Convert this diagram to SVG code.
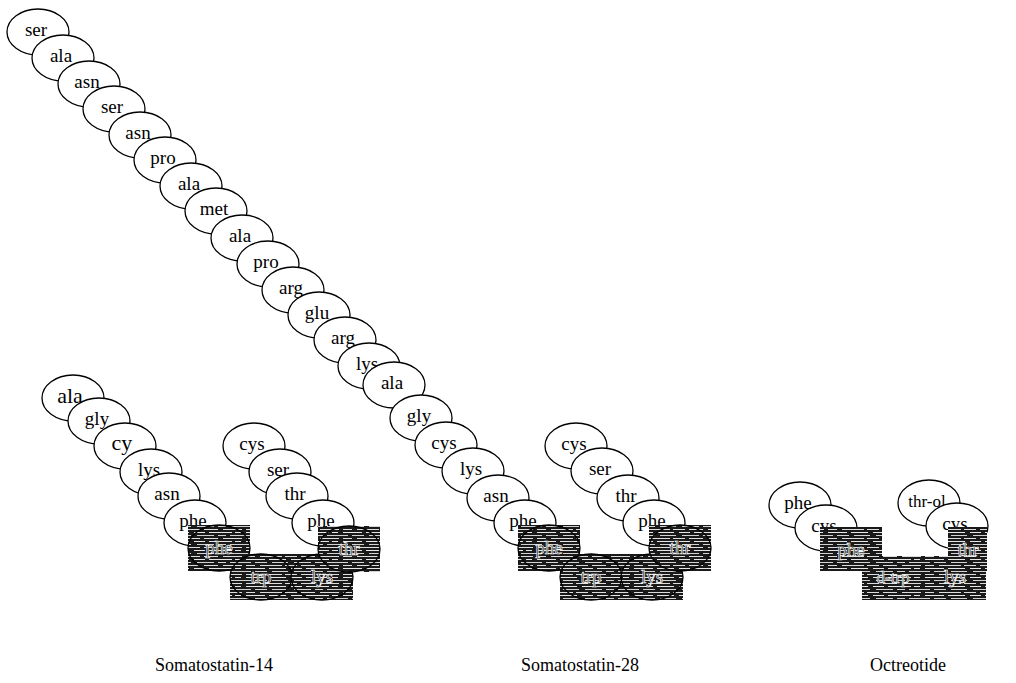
<svg xmlns="http://www.w3.org/2000/svg" width="1016" height="683" viewBox="0 0 1016 683">
<style>
.n ellipse{fill:#fff;stroke:#000;stroke-width:1.3}
.n text{font-family:"Liberation Serif","Times New Roman",serif;font-size:19px;fill:#000;text-anchor:middle}
.d rect{fill:url(#hatch)}
.d ellipse{fill:none;stroke:#000;stroke-width:1.3}
.d text{font-family:"Liberation Serif","Times New Roman",serif;font-size:19px;fill:#000;stroke:#fff;stroke-width:0.7;text-anchor:middle}
.big{font-size:22px !important}
.sm{font-size:17px !important}
.cap{font-family:"Liberation Serif","Times New Roman",serif;font-size:18px;fill:#000;text-anchor:middle}
</style>
<defs>
<pattern id="hatch" width="97" height="9" patternUnits="userSpaceOnUse">
<rect width="97" height="9" fill="#1a1a1a"/>
<path d="M0 1.5h11M15 1.5h23M41 1.5h6M52 1.5h19M75 1.5h17" stroke="#e6e6e6" stroke-width="1.1"/>
<path d="M3 4.5h17M24 4.5h8M36 4.5h21M61 4.5h12M78 4.5h16" stroke="#d2d2d2" stroke-width="1.1"/>
<path d="M0 7.5h6M10 7.5h14M29 7.5h19M52 7.5h9M66 7.5h22M91 7.5h6" stroke="#dddddd" stroke-width="1.1"/>
</pattern>
</defs>
<g id="connectors"/>

<!-- Somatostatin-28 main chain -->
<g id="s28-ser1" class="n"><ellipse cx="38" cy="32" rx="31" ry="23"/><text x="36" y="36">ser</text></g>
<g id="s28-ala2" class="n"><ellipse cx="63" cy="58" rx="31" ry="23"/><text x="61" y="62">ala</text></g>
<g id="s28-asn3" class="n"><ellipse cx="89" cy="84" rx="31" ry="23"/><text x="87" y="88">asn</text></g>
<g id="s28-ser4" class="n"><ellipse cx="114" cy="109" rx="31" ry="23"/><text x="112" y="113">ser</text></g>
<g id="s28-asn5" class="n"><ellipse cx="140" cy="135" rx="31" ry="23"/><text x="138" y="139">asn</text></g>
<g id="s28-pro6" class="n"><ellipse cx="165" cy="160" rx="31" ry="23"/><text x="163" y="164">pro</text></g>
<g id="s28-ala7" class="n"><ellipse cx="191" cy="186" rx="31" ry="23"/><text x="189" y="190">ala</text></g>
<g id="s28-met8" class="n"><ellipse cx="216" cy="211" rx="31" ry="23"/><text x="214" y="215">met</text></g>
<g id="s28-ala9" class="n"><ellipse cx="242" cy="238" rx="31" ry="23"/><text x="240" y="242">ala</text></g>
<g id="s28-pro10" class="n"><ellipse cx="268" cy="264" rx="31" ry="23"/><text x="266" y="268">pro</text></g>
<g id="s28-arg11" class="n"><ellipse cx="293" cy="290" rx="31" ry="23"/><text x="291" y="294">arg</text></g>
<g id="s28-glu12" class="n"><ellipse cx="319" cy="315" rx="31" ry="23"/><text x="317" y="319">glu</text></g>
<g id="s28-arg13" class="n"><ellipse cx="345" cy="340" rx="31" ry="23"/><text x="343" y="344">arg</text></g>
<g id="s28-lys14" class="n"><ellipse cx="369" cy="366" rx="31" ry="23"/><text x="367" y="370">lys</text></g>
<g id="s28-ala15" class="n"><ellipse cx="394" cy="385" rx="31" ry="23"/><text x="392" y="389">ala</text></g>
<g id="s28-gly16" class="n"><ellipse cx="421" cy="418" rx="31" ry="23"/><text x="419" y="422">gly</text></g>
<g id="s28-cys17" class="n"><ellipse cx="446" cy="445" rx="31" ry="23"/><text x="444" y="449">cys</text></g>
<g id="s28-lys18" class="n"><ellipse cx="473" cy="471" rx="31" ry="23"/><text x="471" y="475">lys</text></g>
<g id="s28-asn19" class="n"><ellipse cx="498" cy="498" rx="31" ry="23"/><text x="496" y="502">asn</text></g>
<g id="s28-phe20" class="n"><ellipse cx="525" cy="523" rx="31" ry="23"/><text x="523" y="527">phe</text></g>
<g id="s28-cys28" class="n"><ellipse cx="576" cy="446" rx="31" ry="23"/><text x="574" y="450">cys</text></g>
<g id="s28-ser27" class="n"><ellipse cx="602" cy="471" rx="31" ry="23"/><text x="600" y="475">ser</text></g>
<g id="s28-thr26" class="n"><ellipse cx="628" cy="498" rx="31" ry="23"/><text x="626" y="502">thr</text></g>
<g id="s28-phe25" class="n"><ellipse cx="654" cy="523" rx="31" ry="23"/><text x="652" y="527">phe</text></g>
<g id="s28-phe21" class="d"><rect x="518" y="525" width="62" height="46"/><ellipse cx="549" cy="548" rx="31" ry="23"/><text x="549" y="554">phe</text></g>
<g id="s28-trp22" class="d"><rect x="560" y="554" width="62" height="46"/><ellipse cx="591" cy="577" rx="31" ry="23"/><text x="591" y="583">trp</text></g>
<g id="s28-lys23" class="d"><rect x="621" y="554" width="62" height="46"/><ellipse cx="652" cy="577" rx="31" ry="23"/><text x="652" y="583">lys</text></g>
<g id="s28-thr24" class="d"><rect x="649" y="525" width="62" height="46"/><ellipse cx="680" cy="548" rx="31" ry="23"/><text x="680" y="554">thr</text></g>

<!-- Somatostatin-14 -->
<g id="s14-ala1" class="n"><ellipse cx="73" cy="398" rx="31" ry="23"/><text class="big" x="70" y="403">ala</text></g>
<g id="s14-gly2" class="n"><ellipse cx="99" cy="421" rx="31" ry="23"/><text x="97" y="425">gly</text></g>
<g id="s14-cys3" class="n"><ellipse cx="125" cy="446" rx="31" ry="23"/><text class="big" x="122" y="450">cy</text></g>
<g id="s14-lys4" class="n"><ellipse cx="151" cy="472" rx="31" ry="23"/><text x="149" y="476">lys</text></g>
<g id="s14-asn5" class="n"><ellipse cx="169" cy="496" rx="31" ry="23"/><text x="167" y="500">asn</text></g>
<g id="s14-phe6" class="n"><ellipse cx="195" cy="523" rx="31" ry="23"/><text x="193" y="527">phe</text></g>
<g id="s14-cys14" class="n"><ellipse cx="254" cy="446" rx="31" ry="23"/><text x="252" y="450">cys</text></g>
<g id="s14-ser13" class="n"><ellipse cx="280" cy="472" rx="31" ry="23"/><text x="278" y="476">ser</text></g>
<g id="s14-thr12" class="n"><ellipse cx="297" cy="496" rx="31" ry="23"/><text x="295" y="500">thr</text></g>
<g id="s14-phe11" class="n"><ellipse cx="323" cy="523" rx="31" ry="23"/><text x="321" y="527">phe</text></g>
<g id="s14-phe7" class="d"><rect x="188" y="525" width="62" height="46"/><ellipse cx="219" cy="548" rx="31" ry="23"/><text x="219" y="554">phe</text></g>
<g id="s14-trp8" class="d"><rect x="230" y="554" width="62" height="46"/><ellipse cx="261" cy="577" rx="31" ry="23"/><text x="261" y="583">trp</text></g>
<g id="s14-lys9" class="d"><rect x="291" y="554" width="62" height="46"/><ellipse cx="322" cy="577" rx="31" ry="23"/><text x="322" y="583">lys</text></g>
<g id="s14-thr10" class="d"><rect x="318" y="526" width="62" height="46"/><ellipse cx="349" cy="549" rx="31" ry="23"/><text x="349" y="555">thr</text></g>

<!-- Octreotide -->
<g id="oct-phe1" class="n"><ellipse cx="800" cy="505" rx="31" ry="23"/><text x="798" y="509">phe</text></g>
<g id="oct-cys2" class="n"><ellipse cx="826" cy="528" rx="31" ry="23"/><text x="824" y="532">cys</text></g>
<g id="oct-throl8" class="n"><ellipse cx="929" cy="503" rx="31" ry="23"/><text class="sm" x="927" y="507">thr-ol</text></g>
<g id="oct-cys7" class="n"><ellipse cx="957" cy="526" rx="31" ry="23"/><text x="955" y="530">cys</text></g>
<g id="oct-phe3" class="d"><rect x="820" y="527" width="62" height="44"/><text x="851" y="556">phe</text></g>
<g id="oct-dtrp4" class="d"><rect x="862" y="556" width="62" height="44"/><text class="sm" x="893" y="583">d-trp</text></g>
<g id="oct-lys5" class="d"><rect x="924" y="556" width="62" height="44"/><text x="955" y="583">lys</text></g>
<g id="oct-thr6" class="d"><rect x="948" y="527" width="39" height="44"/><text x="968" y="556">thr</text></g>

<!-- captions -->
<g id="captions">
<text class="cap" x="214" y="671">Somatostatin-14</text>
<text class="cap" x="580" y="671">Somatostatin-28</text>
<text class="cap" x="908" y="671">Octreotide</text>
</g>
</svg>
